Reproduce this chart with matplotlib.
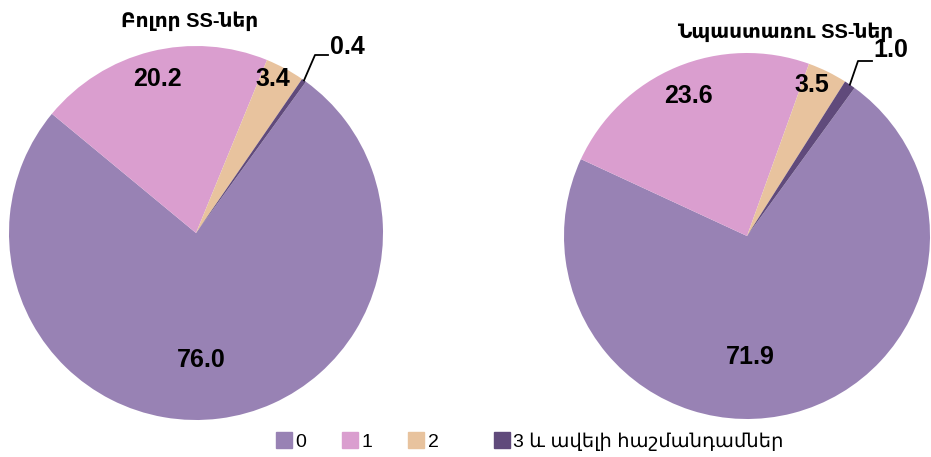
import matplotlib.pyplot as plt
import numpy as np

# datos
categorias = ["0", "1", "2", "3 և ավելի հաշմանդամներ"]
todos = [76.0, 20.2, 3.4, 0.4]
beneficiarios = [71.9, 23.6, 3.5, 1.0]
titulos = ["Բոլոր SS-ներ", "Նպաստառու SS-ներ"]
colores = ["#9882B4", "#DA9ECF", "#E8C39E", "#604A7B"]

fuente = ["Liberation Sans", "DejaVu Sans"]
plt.rcParams['font.family'] = fuente

fig = plt.figure(figsize=(9.31, 4.57), dpi=100)
ax = fig.add_axes([0, 0, 1, 1])

H = 457
pies = [
    # centro, radio, posición polar de etiquetas (fracción, desplazamiento angular)
    dict(vals=todos, c=(196, H - 233), r=187, fr=[0.68, 0.85, 0.92], da=[5, 0, -2],
         codo=(315, H - 55), fin=(328, H - 55), txt=(330, H - 47),
         tit=(190, H - 21)),
    dict(vals=beneficiarios, c=(747, H - 236), r=183, fr=[0.66, 0.83, 0.90], da=[13, 0, -3],
         codo=(858, H - 61), fin=(872, H - 61), txt=(873, H - 50),
         tit=(785, H - 32)),
]

for p, tit in zip(pies, titulos):
    wedges, _ = ax.pie(p["vals"], colors=colores, startangle=54, counterclock=False,
                       center=p["c"], radius=p["r"], wedgeprops=dict(linewidth=0))
    cx, cy = p["c"]
    for w, v, f, d in zip(wedges[:3], p["vals"][:3], p["fr"], p["da"]):
        m = np.deg2rad((w.theta1 + w.theta2) / 2 - d)
        ax.text(cx + f * p["r"] * np.cos(m), cy + f * p["r"] * np.sin(m), f"{v:.1f}",
                ha="center", va="center", fontsize=18, fontweight="bold")
    # etiqueta con línea guía para la porción pequeña
    w = wedges[3]
    m = np.deg2rad((w.theta1 + w.theta2) / 2)
    x0, y0 = cx + p["r"] * np.cos(m), cy + p["r"] * np.sin(m)
    ax.plot([x0, p["codo"][0], p["fin"][0]], [y0, p["codo"][1], p["fin"][1]],
            color="black", lw=1.3)
    ax.text(p["txt"][0], p["txt"][1], f"{p['vals'][3]:.1f}", ha="left", va="center",
            fontsize=18, fontweight="bold")
    ax.text(p["tit"][0], p["tit"][1], tit, ha="center", va="center",
            fontsize=14.5, fontweight="bold")

ax.set_xlim(0, 931)
ax.set_ylim(0, H)
ax.set_aspect("equal")
ax.axis("off")

handles = [plt.Line2D([], [], marker="s", ls="", color=c, markersize=11) for c in colores]
fig.legend(handles[:3], categorias[:3], loc="center left",
           bbox_to_anchor=(274 / 931, 1 - 442 / H), ncol=3, frameon=False,
           fontsize=14, handletextpad=0.1, columnspacing=1.75, handlelength=1.0,
           borderpad=0, borderaxespad=0)
fig.legend(handles[3:], categorias[3:], loc="center left",
           bbox_to_anchor=(492 / 931, 1 - 442 / H), frameon=False,
           fontsize=14, handletextpad=0.1, handlelength=1.0,
           borderpad=0, borderaxespad=0)

plt.savefig("out.png", dpi=100)
